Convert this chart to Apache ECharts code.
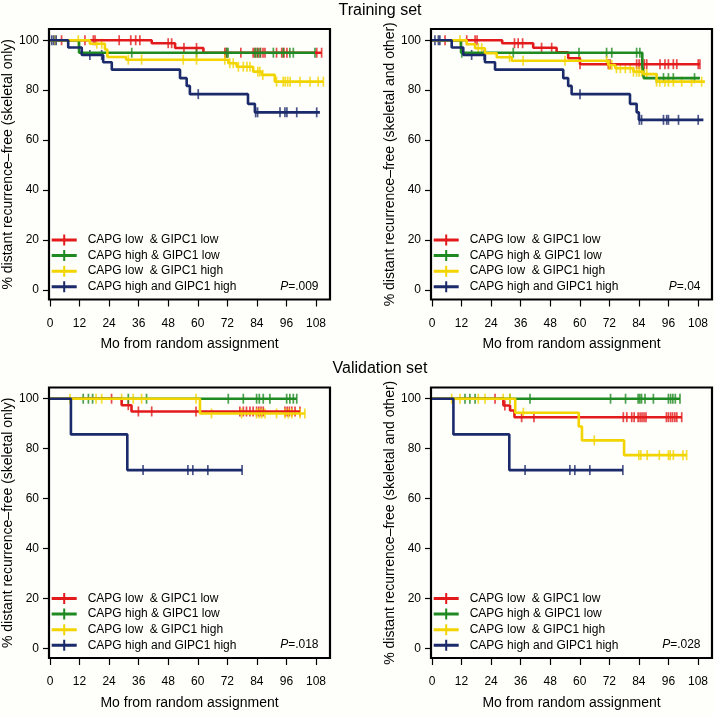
<!DOCTYPE html>
<html><head><meta charset="utf-8">
<script src="https://cdn.jsdelivr.net/npm/echarts@6/dist/echarts.min.js"></script>
<style>html,body{margin:0;padding:0;background:#fefefa}#c{width:714px;height:716px}</style>
</head><body><div id="c"></div>
<script>
// ---------- labels ----------
const groupNames = ['CAPG low  & GIPC1 low', 'CAPG high & GIPC1 low', 'CAPG low  & GIPC1 high', 'CAPG high and GIPC1 high'];
const groupColors = ['#e31a1c', '#1f8a22', '#f2d400', '#1b2a6b'];
const xTicks = [0, 12, 24, 36, 48, 60, 72, 84, 96, 108];
const yTicks = [0, 20, 40, 60, 80, 100];
const setTitles = ['Training set', 'Validation set'];
const yNames = ['% distant recurrence\u2013free (skeletal only)', '% distant recurrence\u2013free (skeletal and other)',
                '% distant recurrence\u2013free (skeletal only)', '% distant recurrence\u2013free (skeletal and other)'];
const xName = 'Mo from random assignment';
const pValues = ['.009', '.04', '.018', '.028'];

// ---------- data: step curves [month, % free] (last point = end of follow-up) ----------
// Panel 1: training, skeletal only
const p1Red    = [[0,100],[41.3,98.8],[50.8,96.9],[62.3,95.0],[110.3,95.0]];
const p1Green  = [[0,100],[11.8,95.0],[107.6,95.0]];
const p1Yellow = [[0,100],[16.2,98.6],[22.3,96.3],[23.3,93.3],[30.9,92.2],[72.4,90.8],[75.8,89.4],[82.5,87.4],[86.0,86.1],[91.3,83.4],[111.0,83.4]];
const p1Navy   = [[0,100],[7.4,97.1],[12.9,94.1],[21.6,91.2],[25.1,88.2],[52.8,84.8],[55.5,81.7],[56.8,78.4],[80.4,74.5],[83.2,71.1],[109.6,71.1]];
// censored times
const p1RedC    = [4.7,14.2,17.6,18.3,28.1,32.8,34.8,36.5,48.0,49.4,54.4,59.5,71.0,71.7,77.5,82.5,83.5,84.5,85.5,86.5,87.3,92.0,94.1,95.0,96.2,108.3,110.3];
const p1GreenC  = [33.2,59.5,71.7,72.3,83.2,84.2,85.3,90.7,94.7,97.4,98.8,107.6];
const p1YellowC = [2.0,11.5,19.0,21.0,31.8,37.2,54.1,59.5,71.0,73.0,74.4,76.5,78.5,80.0,81.2,84.4,85.2,86.4,92.0,94.7,95.5,96.5,97.5,101.5,105.6,108.9,111.0];
const p1NavyC   = [0.7,1.5,2.5,16.2,21.0,60.2,83.5,84.3,93.4,95.4,96.2,100.2,108.3];

// Panel 2: training, skeletal and other
const p2Red    = [[0,100],[28.5,98.8],[41.1,97.0],[50.6,95.2],[55.3,92.8],[60.1,90.4],[108.8,90.4]];
const p2Green  = [[0,100],[11.8,95.0],[85.4,89.9],[86.0,84.8],[108.8,84.8]];
const p2Yellow = [[0,100],[14.1,98.4],[17.5,96.8],[21.5,94.8],[26.3,93.2],[32.4,91.8],[71.6,90.1],[74.4,88.8],[81.8,87.4],[85.8,86.4],[91.2,83.4],[110.8,83.4]];
const p2Navy   = [[0,100],[8.0,97.1],[12.7,94.1],[21.5,91.2],[25.6,88.2],[53.3,84.8],[55.3,81.7],[56.7,78.4],[80.4,74.5],[83.1,71.1],[84.0,68.1],[110.2,68.1]];
const p2RedC    = [5.3,14.1,17.5,18.3,33.5,35.0,36.8,44.5,48.6,60.1,71.6,72.3,83.1,84.1,85.1,86.2,87.2,92.6,94.6,96.0,98.0,99.4,108.1,108.8];
const p2GreenC  = [12.1,33.0,59.7,70.9,73.0,83.1,84.4,91.2,94.0,96.0,98.0,106.6];
const p2YellowC = [11.4,18.8,20.2,21.5,31.5,37.0,54.0,60.1,70.9,72.0,73.0,74.9,76.5,78.5,80.5,81.8,83.1,84.1,85.1,86.2,87.2,91.2,92.5,94.6,96.0,98.0,101.4,105.4,109.5];
const p2NavyC   = [1.2,2.6,3.2,16.1,21.2,60.1,84.2,85.1,94.0,95.3,96.0,100.1,108.1];

// Panel 3: validation, skeletal only
const p3Red    = [[0,100],[29.1,97.4],[33.1,94.9],[101.5,94.9]];
const p3Green  = [[0,100],[100.2,100]];
const p3Yellow = [[0,100],[60.9,94.1],[103.5,94.1]];
const p3Navy   = [[0,100],[8.5,85.7],[31.4,71.4],[78.0,71.4]];
const p3RedC    = [25.0,31.8,35.9,41.3,59.3,77.1,78.5,79.8,81.2,82.5,83.9,84.8,85.7,86.6,95.4,96.3,97.2,98.2,99.5,101.5];
const p3GreenC  = [13.5,15.6,17.3,31.8,39.2,72.4,78.5,83.9,85.0,86.6,89.3,96.1,97.4,98.8,100.2];
const p3YellowC = [8.1,18.7,21.0,29.1,33.8,37.2,59.3,65.6,77.8,83.9,85.0,86.0,87.3,92.0,95.4,96.8,98.2,101.5,103.5];
const p3NavyC   = [37.8,56.0,58.0,64.1,78.0];

// Panel 4: validation, skeletal and other
const p4Red    = [[0,100],[29.0,97.3],[31.7,95.3],[33.5,92.6],[101.4,92.6]];
const p4Green  = [[0,100],[100.7,100]];
const p4Yellow = [[0,100],[33.8,94.4],[59.6,88.9],[60.9,83.3],[78.0,77.4],[103.4,77.4]];
const p4Navy   = [[0,100],[8.7,85.7],[31.4,71.4],[77.5,71.4]];
const p4RedC    = [25.6,29.6,36.4,41.4,77.7,79.1,81.1,82.1,83.7,84.5,85.3,86.1,86.9,95.2,96.0,96.9,97.7,98.6,99.4,101.4];
const p4GreenC  = [13.4,15.4,17.5,31.7,39.8,72.5,78.6,83.7,84.4,85.1,86.5,89.9,96.0,96.9,97.8,98.8,100.7];
const p4YellowC = [8.0,11.4,18.8,21.5,28.9,31.7,37.1,65.9,84.0,84.8,87.4,92.3,96.0,96.7,98.0,101.9,103.4];
const p4NavyC   = [37.8,56.0,58.0,64.1,77.5];

const curves  = [[p1Red,p1Green,p1Yellow,p1Navy],[p2Red,p2Green,p2Yellow,p2Navy],[p3Red,p3Green,p3Yellow,p3Navy],[p4Red,p4Green,p4Yellow,p4Navy]];
const censors = [[p1RedC,p1GreenC,p1YellowC,p1NavyC],[p2RedC,p2GreenC,p2YellowC,p2NavyC],[p3RedC,p3GreenC,p3YellowC,p3NavyC],[p4RedC,p4GreenC,p4YellowC,p4NavyC]];

// ---------- layout ----------
const FONT = 'Liberation Sans, Arial, Helvetica, sans-serif';
const gridLefts = [49, 431, 49, 431];
const gridTops = [29, 29, 387.5, 387.5];
const GW = 281, GH = 270.5;
const XMIN = -0.4, XMAX = 113.7, YMIN = -3.9, YMAX = 104.5;

function valueAt(steps, t) {
  let v = steps[0][1];
  for (const s of steps) { if (s[0] <= t) v = s[1]; }
  return v;
}

const crossIcon = 'path://M0,4h25v3h-25zM11.5,0h2v11h-2z';

const grids = [], xAxes = [], yAxes = [], series = [], legends = [], graphics = [];
for (let i = 0; i < 4; i++) {
  grids.push({left: gridLefts[i], top: gridTops[i], width: GW, height: GH, show: true,
    borderColor: '#000', borderWidth: 2.2, backgroundColor: 'transparent'});
  xAxes.push({gridIndex: i, type: 'value', min: XMIN, max: XMAX,
    axisLine: {show: false, onZero: false}, splitLine: {show: false},
    axisTick: {show: true, length: 7, customValues: xTicks, lineStyle: {color: '#000', width: 1.2}},
    axisLabel: {customValues: xTicks, fontSize: 12, color: '#000', margin: 18, fontFamily: FONT},
    name: xName, nameLocation: 'middle', nameGap: 38,
    nameTextStyle: {fontSize: 14, color: '#000', fontFamily: FONT}});
  yAxes.push({gridIndex: i, type: 'value', min: YMIN, max: YMAX,
    axisLine: {show: false, onZero: false}, splitLine: {show: false},
    axisTick: {show: true, length: 6, customValues: yTicks, lineStyle: {color: '#000', width: 1.2}},
    axisLabel: {customValues: yTicks, fontSize: 12, color: '#000', margin: 10, fontFamily: FONT},
    name: yNames[i], nameLocation: 'middle', nameGap: 31, nameRotate: 90,
    nameTextStyle: {fontSize: 14, color: '#000', fontFamily: FONT}});
  for (let g = 0; g < 4; g++) {
    const steps = curves[i][g];
    series.push({type: 'line', name: groupNames[g], xAxisIndex: i, yAxisIndex: i, step: 'end',
      data: steps, showSymbol: false, symbol: 'none', silent: true,
      lineStyle: {width: 2.6, color: groupColors[g]}, itemStyle: {color: groupColors[g]}});
    series.push({type: 'scatter', name: '_c' + i + g, xAxisIndex: i, yAxisIndex: i, silent: true,
      data: censors[i][g].map(t => [t, valueAt(steps, t)]),
      symbol: 'rect', symbolSize: [1.7, 10], itemStyle: {color: groupColors[g]}});
  }
  const zeroY = gridTops[i] + (YMAX - 0) / (YMAX - YMIN) * GH;
  legends.push({orient: 'vertical', left: gridLefts[i] + 2.7, top: zeroY - 50.3 - 5.5,
    itemWidth: 25, itemHeight: 11, itemGap: 3.6, padding: 0, selectedMode: false,
    itemStyle: {borderWidth: 0},
    textStyle: {fontSize: 12, color: '#000', fontFamily: FONT, lineHeight: 11, padding: [0, 0, 0, 6]},
    data: groupNames.map(n => ({name: n, icon: crossIcon}))});
  graphics.push({type: 'text', silent: true, style: {
    text: '{i|P}=' + pValues[i], x: gridLefts[i] + GW - 11.5, y: zeroY - 3.3,
    align: 'right', verticalAlign: 'middle', fill: '#000', font: '12px ' + FONT,
    rich: {i: {fontStyle: 'italic', fontSize: 12, fontFamily: FONT, fill: '#000'}}}});
}
graphics.push({type: 'text', silent: true, style: {text: setTitles[0], x: 380, y: 10.5, align: 'center', verticalAlign: 'middle', fill: '#000', font: '16px ' + FONT}});
graphics.push({type: 'text', silent: true, style: {text: setTitles[1], x: 380, y: 368.5, align: 'center', verticalAlign: 'middle', fill: '#000', font: '16px ' + FONT}});

const chart = echarts.init(document.getElementById('c'), null, {renderer: 'canvas'});
chart.setOption({
  backgroundColor: '#fefefa', animation: false,
  grid: grids, xAxis: xAxes, yAxis: yAxes, series: series, legend: legends, graphic: graphics
});
</script></body></html>
